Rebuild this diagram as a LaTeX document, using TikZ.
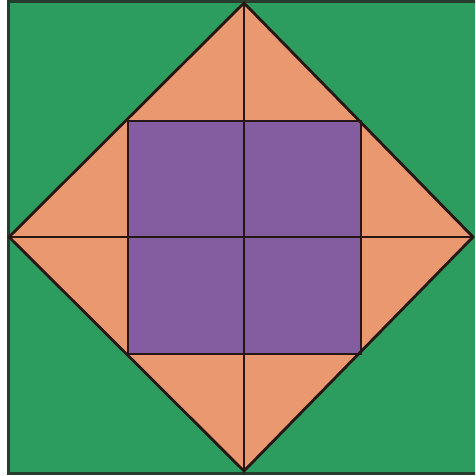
\documentclass[tikz,border=0pt]{standalone}
\begin{document}
\begin{tikzpicture}[x=1pt,y=-1pt,
  edge/.style={draw=linec,line width=2.8pt,line join=miter},
]
\definecolor{greenf}{RGB}{44,157,94}
\definecolor{peach}{RGB}{234,152,112}
\definecolor{purp}{RGB}{132,92,160}
\definecolor{linec}{RGB}{38,22,20}
\definecolor{borderc}{RGB}{40,60,45}
\useasboundingbox (0,0) rectangle (475,476);
\fill[white] (0,0) rectangle (475,476);
\begin{scope}
\clip (0,0) rectangle (475,476);
\coordinate (TL) at (8,2);
\coordinate (BR) at (479,473);
\coordinate (T) at (244,3);
\coordinate (L) at (9,237);
\coordinate (B) at (244,471);
\coordinate (R) at (473,237);
\coordinate (q1) at (128,121);
\coordinate (q3) at (361,354);
\fill[greenf] (TL) rectangle (BR);
\draw[borderc,line width=3pt] (TL) rectangle (BR);
\fill[peach] (T) -- (R) -- (B) -- (L) -- cycle;
\fill[purp] (q1) rectangle (q3);
\draw[edge] (T) -- (R) -- (B) -- (L) -- cycle;
\draw[edge] (q1) rectangle (q3);
\draw[edge] (T) -- (B);
\draw[edge] (L) -- (R);
\end{scope}
\end{tikzpicture}
\end{document}
